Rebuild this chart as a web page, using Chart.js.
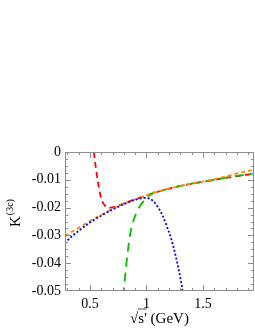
<!DOCTYPE html>
<html>
<head>
<meta charset="utf-8">
<title>K3c</title>
<script src="https://cdn.jsdelivr.net/npm/chart.js@4.4.0/dist/chart.umd.min.js"></script>
<style>
  html, body { margin: 0; padding: 0; background: #fff; }
  #wrap { position: relative; width: 255px; height: 330px; }
</style>
</head>
<body>
<div id="wrap"><canvas id="c1"></canvas></div>
<script>
// data
const orangeX = [0.28, 0.3, 0.4, 0.5, 0.6, 0.7, 0.8, 0.9, 1.0, 1.1, 1.2, 1.3, 1.4, 1.5, 1.6, 1.7, 1.8, 1.9, 1.95];
const orangeY = [-0.0303, -0.0297, -0.0273, -0.0248, -0.0226, -0.0204, -0.0185, -0.0170, -0.0156, -0.0143, -0.0132, -0.0122, -0.0113, -0.0106, -0.0098, -0.0088, -0.0077, -0.0068, -0.0063];

const redX = [0.535, 0.55, 0.57, 0.59, 0.61, 0.63, 0.65, 0.68, 0.72, 0.8, 0.9, 1.0, 1.1, 1.2, 1.3, 1.4, 1.5, 1.6, 1.7, 1.8, 1.9, 1.95];
const redY = [0.0, -0.005, -0.0105, -0.015, -0.0178, -0.0191, -0.0197, -0.0200, -0.0197, -0.0185, -0.0170, -0.0156, -0.0143, -0.0132, -0.0122, -0.0114, -0.0107, -0.0100, -0.0093, -0.0087, -0.0081, -0.0078];

const greenX = [0.795, 0.80, 0.823, 0.853, 0.888, 0.918, 0.95, 0.987, 1.02, 1.06, 1.1, 1.2, 1.3, 1.4, 1.5, 1.6, 1.7, 1.8, 1.9, 1.95];
const greenY = [-0.052, -0.0495, -0.040, -0.0303, -0.0243, -0.0213, -0.0190, -0.0171, -0.0158, -0.0147, -0.0143, -0.0132, -0.0122, -0.0114, -0.0107, -0.0100, -0.0092, -0.0086, -0.0080, -0.0077];

const blueX = [0.28, 0.3, 0.4, 0.5, 0.6, 0.7, 0.8, 0.9, 0.95, 0.995, 1.06, 1.105, 1.145, 1.18, 1.216, 1.255, 1.285, 1.315, 1.33];
const blueY = [-0.0329, -0.0319, -0.0284, -0.0254, -0.0229, -0.0207, -0.0188, -0.0172, -0.0167, -0.0165, -0.0177, -0.0201, -0.0231, -0.0267, -0.0309, -0.0369, -0.0423, -0.0489, -0.053];

const xTicks = [0.5, 1, 1.5];
const yTicks = [0, -0.01, -0.02, -0.03, -0.04, -0.05];

function pts(xs, ys) {
  return xs.map((x, i) => ({ x: x, y: ys[i] }));
}

const serif = '"Liberation Serif", "DejaVu Serif", serif';

// inward ticks on all four sides + y title with superscript
const framePlugin = {
  id: 'frame',
  afterDraw(chart) {
    const ctx = chart.ctx;
    const a = chart.chartArea;
    const xs = chart.scales.x, ys = chart.scales.y;
    ctx.save();
    ctx.strokeStyle = '#8c8c8c';
    ctx.lineWidth = 1;
    ctx.strokeRect(a.left + 0.5, a.top + 0.5, a.right - a.left - 1, a.bottom - a.top - 1);
    ctx.beginPath();
    for (let v = 0.3; v <= 1.95; v += 0.1) {
      const p = Math.round(xs.getPixelForValue(v)) + 0.5;
      const major = xTicks.some(t => Math.abs(t - v) < 1e-6);
      const len = major ? 6 : 3;
      ctx.moveTo(p, a.bottom); ctx.lineTo(p, a.bottom - len);
      ctx.moveTo(p, a.top); ctx.lineTo(p, a.top + len);
    }
    for (let v = 0; v >= -0.05; v -= 0.0025) {
      const p = Math.round(ys.getPixelForValue(v)) + 0.5;
      const major = yTicks.some(t => Math.abs(t - v) < 1e-6);
      const len = major ? 6 : 3;
      ctx.moveTo(a.left, p); ctx.lineTo(a.left + len, p);
      ctx.moveTo(a.right, p); ctx.lineTo(a.right - len, p);
    }
    ctx.stroke();

    // y title K^(3c)
    ctx.fillStyle = '#000';
    ctx.translate(20, 227);
    ctx.rotate(-Math.PI / 2);
    ctx.textBaseline = 'alphabetic';
    ctx.textAlign = 'left';
    ctx.font = '15px ' + serif;
    ctx.fillText('K', 0, 0);
    const kw = ctx.measureText('K').width;
    ctx.font = '10px ' + serif;
    ctx.fillText('(3c)', kw + 1, -7);
    ctx.restore();
  }
};

// x title drawn as text so the root sign can get its bar
const xTitlePlugin = {
  id: 'xtitle',
  afterDraw(chart) {
    const ctx = chart.ctx;
    const a = chart.chartArea;
    const cx = (a.left + a.right) / 2;
    ctx.save();
    ctx.fillStyle = '#000';
    ctx.font = '15px ' + serif;
    ctx.textBaseline = 'alphabetic';
    ctx.textAlign = 'left';
    const parts = ['\u221A', "s'", ' (GeV)'];
    const w = parts.map(p => ctx.measureText(p).width);
    const total = w[0] + w[1] + w[2];
    let x = cx - total / 2;
    const base = 323;
    ctx.fillText(parts[0], x, base);
    const x0 = x + w[0] - 0.5;
    x += w[0];
    ctx.fillText(parts[1], x, base);
    const x1 = x + w[1];
    x += w[1];
    ctx.fillText(parts[2], x, base);
    ctx.strokeStyle = '#000';
    ctx.lineWidth = 0.7;
    ctx.beginPath();
    ctx.moveTo(x0, base - 14);
    ctx.lineTo(x1, base - 14);
    ctx.stroke();
    ctx.restore();
  }
};

const lineStyle = { fill: false, pointRadius: 0, borderWidth: 1.8, tension: 0.4, cubicInterpolationMode: 'monotone' };

new Chart(document.getElementById('c1'), {
  type: 'line',
  data: {
    datasets: [
      Object.assign({ label: 'blue', data: pts(blueX, blueY), borderColor: '#0000ff', borderDash: [2, 2], order: 0 }, lineStyle),
      Object.assign({ label: 'orange', data: pts(orangeX, orangeY), borderColor: '#ff8c00', borderDash: [4, 3], order: 1 }, lineStyle),
      Object.assign({ label: 'green', data: pts(greenX, greenY), borderColor: '#00c000', borderDash: [9, 6], order: 2 }, lineStyle),
      Object.assign({ label: 'red', data: pts(redX, redY), borderColor: '#ff0000', borderDash: [6, 4], order: 3 }, lineStyle)
    ]
  },
  options: {
    responsive: true,
    maintainAspectRatio: false,
    animation: false,
    layout: { padding: { top: 152, right: 1, left: 0, bottom: 0 } },
    plugins: { legend: { display: false }, tooltip: { enabled: false } },
    scales: {
      x: {
        type: 'linear',
        min: 0.28,
        max: 1.95,
        afterBuildTicks: s => { s.ticks = xTicks.map(v => ({ value: v })); },
        afterFit: s => { s.height = 39; },
        grid: { display: false, drawTicks: false },
        border: { display: false },
        ticks: {
          color: '#000',
          font: { family: serif, size: 14 },
          padding: 5,
          maxRotation: 0,
          callback: v => String(v)
        }
      },
      y: {
        type: 'linear',
        min: -0.05,
        max: 0,
        afterBuildTicks: s => { s.ticks = yTicks.map(v => ({ value: v })); },
        afterFit: s => { s.width = 65; },
        grid: { display: false, drawTicks: false },
        border: { display: false },
        ticks: {
          color: '#000',
          font: { family: serif, size: 14 },
          padding: 4,
          callback: v => (Math.abs(v) < 1e-9 ? '0' : v.toFixed(2))
        }
      }
    }
  },
  plugins: [framePlugin, xTitlePlugin]
});
</script>
</body>
</html>
